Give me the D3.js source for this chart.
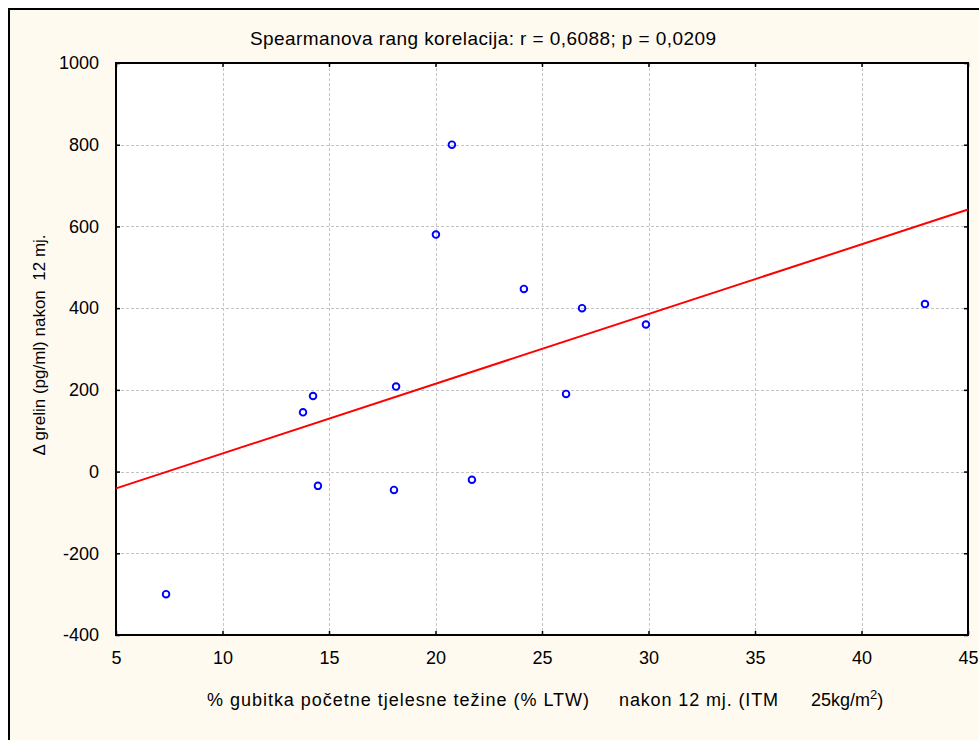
<!DOCTYPE html>
<html>
<head>
<meta charset="utf-8">
<script src="https://cdn.jsdelivr.net/npm/d3@7"></script>
<style>
  body { margin: 0; background: #fff; }
  text { font-family: Arial, "Liberation Sans", sans-serif; white-space: pre; }
</style>
</head>
<body>
<svg id="chart"></svg>
<script>
// data
var lossPct = [7.35, 13.78, 14.25, 14.48, 18.05, 18.15, 20.02, 20.77, 21.71, 24.15, 26.13, 26.88, 29.88, 42.98];
var deltaGrelin = [-300, 145, 185, -35, -45, 208, 580, 800, -20, 447, 190, 400, 360, 410];
var xTicks = [5, 10, 15, 20, 25, 30, 35, 40, 45];
var yTicks = [-400, -200, 0, 200, 400, 600, 800, 1000];

var titleText = "Spearmanova rang korelacija: r = 0,6088; p = 0,0209";
var xLabelParts = ["% gubitka početne tjelesne težine (% LTW)", "nakon 12 mj. (ITM", "25kg/m"];
var yLabel = "Δ grelin (pg/ml) nakon  12 mj.";

var W = 979, H = 740;
var plot = {left: 116, top: 63, right: 968, bottom: 635};

var svg = d3.select("#chart").attr("width", W).attr("height", H);

// outer frame
svg.append("rect").attr("x", 0).attr("y", 0).attr("width", W).attr("height", H).attr("fill", "#fff");
svg.append("rect").attr("x", 9).attr("y", 9).attr("width", W + 20).attr("height", H + 20)
    .attr("fill", "#fffaf0").attr("stroke", "#000").attr("stroke-width", 2);

var xScale = d3.scaleLinear().domain([5, 45]).range([plot.left, plot.right]);
var yScale = d3.scaleLinear().domain([-400, 1000]).range([plot.bottom, plot.top]);

svg.append("rect").attr("x", plot.left).attr("y", plot.top)
    .attr("width", plot.right - plot.left).attr("height", plot.bottom - plot.top)
    .attr("fill", "#fff");

// grid
var grid = svg.append("g").attr("stroke", "#c4c4c4").attr("stroke-dasharray", "3,2").attr("stroke-width", 1);
grid.selectAll(".gx").data(xTicks.slice(1, -1)).enter().append("line")
    .attr("x1", d => Math.round(xScale(d)) + 0.5).attr("x2", d => Math.round(xScale(d)) + 0.5)
    .attr("y1", plot.top).attr("y2", plot.bottom);
grid.selectAll(".gy").data(yTicks.slice(1, -1)).enter().append("line")
    .attr("y1", d => Math.round(yScale(d)) + 0.5).attr("y2", d => Math.round(yScale(d)) + 0.5)
    .attr("x1", plot.left).attr("x2", plot.right);

// axes, ticks inward on all four sides
var fmt = d => String(d);
svg.append("g").attr("class", "ax").attr("transform", "translate(0," + plot.bottom + ")")
    .call(d3.axisBottom(xScale).tickValues(xTicks).tickSizeInner(-4).tickSizeOuter(0).tickPadding(16).tickFormat(fmt));
svg.append("g").attr("class", "ax").attr("transform", "translate(0," + plot.top + ")")
    .call(d3.axisTop(xScale).tickValues(xTicks).tickSizeInner(-4).tickSizeOuter(0).tickFormat(""));
svg.append("g").attr("class", "ax").attr("transform", "translate(" + plot.left + ",0)")
    .call(d3.axisLeft(yScale).tickValues(yTicks).tickSizeInner(-4).tickSizeOuter(0).tickPadding(17).tickFormat(fmt));
svg.append("g").attr("class", "ax").attr("transform", "translate(" + plot.right + ",0)")
    .call(d3.axisRight(yScale).tickValues(yTicks).tickSizeInner(-4).tickSizeOuter(0).tickFormat(""));
svg.selectAll(".ax .domain").remove();
svg.selectAll(".ax line").attr("stroke", "#000").attr("stroke-width", 1.5);
svg.selectAll(".ax text").attr("font-size", 18).attr("fill", "#000")
    .style("font-family", "Arial, 'Liberation Sans', sans-serif");

svg.append("rect").attr("x", plot.left).attr("y", plot.top)
    .attr("width", plot.right - plot.left).attr("height", plot.bottom - plot.top)
    .attr("fill", "none").attr("stroke", "#000").attr("stroke-width", 2);

// least squares fit line
var mx = d3.mean(lossPct), my = d3.mean(deltaGrelin);
var sxy = d3.sum(lossPct, (x, i) => (x - mx) * (deltaGrelin[i] - my));
var sxx = d3.sum(lossPct, x => (x - mx) * (x - mx));
var slope = sxy / sxx, icpt = my - slope * mx;
var xs = xScale.domain();
svg.append("line")
    .attr("x1", xScale(xs[0])).attr("y1", yScale(icpt + slope * xs[0]))
    .attr("x2", xScale(xs[1])).attr("y2", yScale(icpt + slope * xs[1]))
    .attr("stroke", "#ff0000").attr("stroke-width", 2);

// points
svg.selectAll(".pt").data(lossPct).enter().append("circle")
    .attr("cx", d => xScale(d)).attr("cy", (d, i) => yScale(deltaGrelin[i]))
    .attr("r", 3.3).attr("fill", "none").attr("stroke", "#0000ff").attr("stroke-width", 1.9);

// texts
svg.append("text").attr("x", 250).attr("y", 45).attr("font-size", 19)
    .attr("textLength", 466).attr("lengthAdjust", "spacing").text(titleText);

svg.append("text").attr("x", 207).attr("y", 706).attr("font-size", 18)
    .attr("textLength", 382).attr("lengthAdjust", "spacing").text(xLabelParts[0]);
svg.append("text").attr("x", 619).attr("y", 706).attr("font-size", 18)
    .attr("textLength", 159).attr("lengthAdjust", "spacing").text(xLabelParts[1]);
var xl3 = svg.append("text").attr("x", 811).attr("y", 706).attr("font-size", 18);
xl3.append("tspan").text(xLabelParts[2]);
xl3.append("tspan").attr("dy", -7).attr("font-size", 13).text("2");
xl3.append("tspan").attr("dy", 7).text(")");

svg.append("text").attr("transform", "translate(45,345) rotate(-90)").attr("text-anchor", "middle")
    .attr("font-size", 17).text(yLabel);
</script>
</body>
</html>
